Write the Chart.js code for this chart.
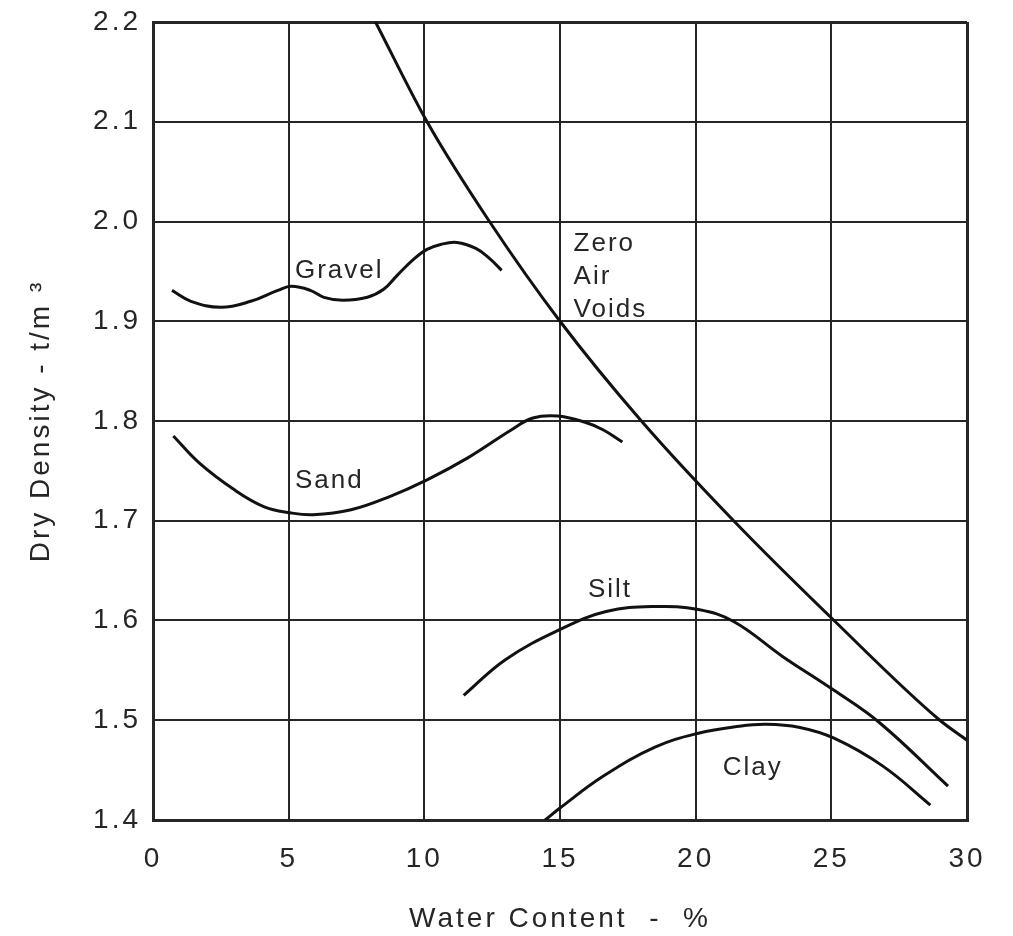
<!DOCTYPE html>
<html>
<head>
<meta charset="utf-8">
<script src="https://cdn.jsdelivr.net/npm/chart.js@4.4.1/dist/chart.umd.min.js"></script>
<style>
  html, body { margin: 0; padding: 0; background: #fff; }
  #wrap { width: 1013px; height: 936px; position: relative; }
</style>
</head>
<body>
<div id="wrap"><canvas id="compaction"></canvas></div>
<script>
// ── chart values ──────────────────────────────────────────────
const xTicks = [0, 5, 10, 15, 20, 25, 30];
const yTicks = [1.4, 1.5, 1.6, 1.7, 1.8, 1.9, 2.0, 2.1, 2.2];

const zavWater   = [8.2, 10.1, 12.4, 15.0, 18.0, 21.4, 25.1, 29.0, 30.0];
const zavDensity = [2.2, 2.1, 2.0, 1.9, 1.8, 1.7, 1.6, 1.5, 1.48];

const gravelWater   = [0.7, 1.4, 2.5, 3.6, 4.6, 5.1, 5.8, 6.3, 7.0, 7.9, 8.5, 9.0, 9.6, 10.1, 10.6, 11.2, 11.9, 12.4, 12.85];
const gravelDensity = [1.931, 1.920, 1.914, 1.920, 1.931, 1.935, 1.931, 1.924, 1.921, 1.924, 1.932, 1.946, 1.962, 1.972, 1.977, 1.979, 1.973, 1.963, 1.951];

const sandWater   = [0.75, 1.7, 3.0, 4.1, 5.05, 5.9, 7.3, 8.7, 10.1, 11.6, 13.2, 14.0, 14.9, 15.9, 16.6, 17.3];
const sandDensity = [1.785, 1.758, 1.731, 1.714, 1.708, 1.706, 1.711, 1.724, 1.741, 1.763, 1.791, 1.803, 1.805, 1.799, 1.791, 1.779];

const siltWater   = [11.45, 13.0, 15.0, 16.7, 18.5, 20.1, 21.4, 23.2, 25.1, 26.8, 29.3];
const siltDensity = [1.525, 1.561, 1.591, 1.609, 1.614, 1.611, 1.599, 1.564, 1.530, 1.497, 1.434];

const clayWater   = [14.45, 15.0, 16.6, 18.5, 20.1, 21.6, 22.6, 23.8, 25.1, 26.9, 28.65];
const clayDensity = [1.400, 1.412, 1.444, 1.473, 1.487, 1.494, 1.496, 1.493, 1.482, 1.454, 1.415];

// curve names and where they sit (data units: left edge, baseline)
const curveNames = ['Gravel', 'Sand', 'Silt', 'Clay'];
const nameWater   = [5.23, 5.23, 16.03, 21.0];
const nameDensity = [1.943, 1.733, 1.624, 1.445];
const zavName = ['Zero', 'Air', 'Voids'];
const zavNameAt = [15.5, 1.970];

const INK = '#262626';
const FONT = '"Liberation Sans", Arial, sans-serif';

const pts = (xs, ys) => xs.map((x, i) => ({ x, y: ys[i] }));
const curve = (label, xs, ys, mode) => ({
  label, data: pts(xs, ys), showLine: true, borderColor: '#111', borderWidth: 3,
  pointRadius: 0, tension: 0.4, cubicInterpolationMode: mode || 'default', fill: false
});

// the scanned figure has wide letter spacing on all its text
const spacingPlugin = {
  id: 'spacing',
  beforeDraw(chart) { chart.ctx.letterSpacing = '3px'; }
};

const curveLabelPlugin = {
  id: 'curveLabels',
  afterDatasetsDraw(chart) {
    const { ctx, scales: { x, y } } = chart;
    ctx.save();
    ctx.fillStyle = INK;
    ctx.font = `26px ${FONT}`;
    ctx.letterSpacing = '2px';
    ctx.textAlign = 'left';
    ctx.textBaseline = 'alphabetic';
    curveNames.forEach((t, i) => ctx.fillText(t, x.getPixelForValue(nameWater[i]), y.getPixelForValue(nameDensity[i])));
    const zx = x.getPixelForValue(zavNameAt[0]), zy = y.getPixelForValue(zavNameAt[1]);
    zavName.forEach((t, i) => ctx.fillText(t, zx, zy + i * 33));
    ctx.restore();
  }
};

const edge = (vals) => (c) => (c.tick && (Math.abs(c.tick.value - vals[0]) < 1e-6 || Math.abs(c.tick.value - vals[vals.length - 1]) < 1e-6)) ? 3 : 2;

new Chart(document.getElementById('compaction'), {
  type: 'scatter',
  data: {
    datasets: [
      curve('Zero Air Voids', zavWater, zavDensity, 'monotone'),
      curve('Gravel', gravelWater, gravelDensity),
      curve('Sand', sandWater, sandDensity),
      curve('Silt', siltWater, siltDensity),
      curve('Clay', clayWater, clayDensity)
    ]
  },
  options: {
    responsive: true, maintainAspectRatio: false, animation: false,
    layout: { padding: { top: 22, right: 46, left: 0, bottom: 0 } },
    plugins: { legend: { display: false }, tooltip: { enabled: false } },
    scales: {
      x: {
        type: 'linear', min: xTicks[0], max: xTicks[xTicks.length - 1],
        afterFit: s => { s.height = 116; s.paddingLeft = 0; s.paddingRight = 0; },
        afterBuildTicks: s => { s.ticks = xTicks.map(v => ({ value: v })); },
        grid: { color: INK, lineWidth: edge(xTicks), drawTicks: false },
        border: { color: INK, width: 3 },
        ticks: { color: INK, padding: 22, font: { family: FONT, size: 28 }, maxRotation: 0 },
        title: { display: true, text: 'Water Content  -  %', color: INK, padding: { top: 0, bottom: 0 }, font: { family: FONT, size: 28 } }
      },
      y: {
        type: 'linear', min: yTicks[0], max: yTicks[yTicks.length - 1],
        afterFit: s => { s.width = 153; s.paddingTop = 0; s.paddingBottom = 0; },
        afterBuildTicks: s => { s.ticks = yTicks.map(v => ({ value: v })); },
        grid: { color: INK, lineWidth: edge(yTicks), drawTicks: false },
        border: { color: INK, width: 3 },
        ticks: { color: INK, padding: 12, font: { family: FONT, size: 28 }, callback: v => v.toFixed(1) },
        title: { display: true, text: 'Dry Density - t/m ³', color: INK, padding: { top: 24, bottom: 0 }, font: { family: FONT, size: 28 } }
      }
    }
  },
  plugins: [spacingPlugin, curveLabelPlugin]
});
</script>
</body>
</html>
